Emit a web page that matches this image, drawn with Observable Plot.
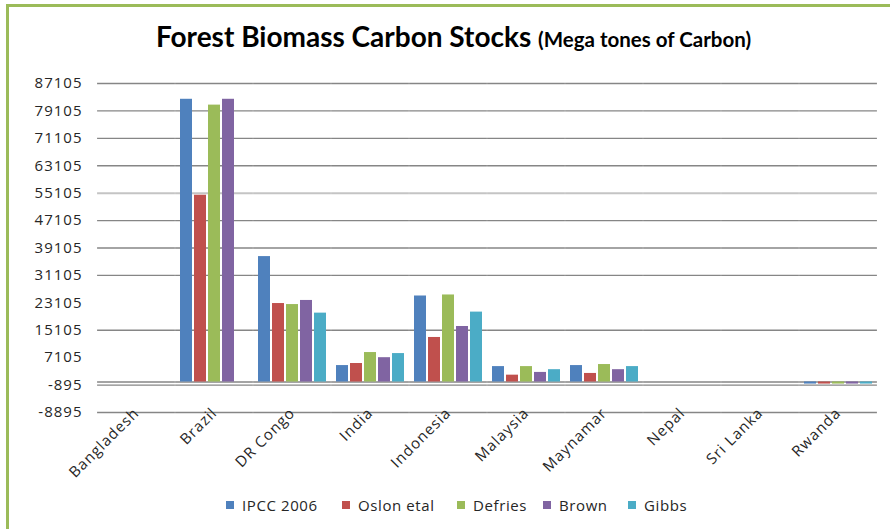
<!DOCTYPE html>
<html>
<head>
<meta charset="utf-8">
<script src="https://cdn.jsdelivr.net/npm/d3@7"></script>
<script src="https://cdn.jsdelivr.net/npm/@observablehq/plot@0.6"></script>
<style>
  html, body { margin: 0; padding: 0; background: #fff; }
  #wrap { position: relative; width: 890px; height: 529px; overflow: hidden; }
  #title { position: relative; height: 70px; }
  #title .t { position: absolute; top: 22px; left: 0; width: 890px; box-sizing: border-box; padding-left: 17px;
    text-align: center; font-family: Lato, sans-serif; font-weight: bold; font-size: 28px; line-height: 28px; color: #000; white-space: nowrap; }
  #title .t span { font-size: 20.5px; }
  #legend { position: relative; height: 39px; font-family: "Open Sans", sans-serif; font-size: 15px; letter-spacing: 0.6px; color: #262626; }
  #legend .item { position: absolute; top: 5px; display: flex; align-items: center; white-space: nowrap; }
  #legend .sw { width: 8px; height: 8px; margin-right: 8px; }
  #border { position: absolute; left: 6px; top: 4px; right: 0; bottom: 0; border-left: 3px solid #9bbb59; border-top: 3px solid #9bbb59; pointer-events: none; }
  #chart svg text { letter-spacing: 1px; }
</style>
</head>
<body>
<div id="wrap">
  <div id="title"><div class="t">Forest Biomass Carbon Stocks <span>(Mega tones of Carbon)</span></div></div>
  <div id="chart"></div>
  <div id="legend"></div>
  <div id="border"></div>
</div>
<script>
const countries = ["Bangladesh", "Brazil", "DR Congo", "India", "Indonesia", "Malaysia", "Maynamar", "Nepal", "Sri Lanka", "Rwanda"];
const seriesNames = ["IPCC 2006", "Oslon etal", "Defries", "Brown", "Gibbs"];
const colors = ["#4f81bd", "#c0504d", "#9bbb59", "#8064a2", "#4bacc6"];
const ipcc2006 = [null, 82500, 36600, 4800, 25100, 4500, 4800, null, null, -600];
const oslonEtal = [null, 54500, 22900, 5400, 13000, 2000, 2500, null, null, -600];
const defries = [null, 80800, 22600, 8600, 25400, 4500, 5100, null, null, -600];
const brown = [null, 82500, 23800, 7100, 16200, 2800, 3600, null, null, -600];
const gibbs = [null, null, 20100, 8300, 20400, 3600, 4500, null, null, -600];
const yTicks = [-8895, -895, 7105, 15105, 23105, 31105, 39105, 47105, 55105, 63105, 71105, 79105, 87105];
const gridDark = [-8895, -895, 15105, 31105, 39105, 47105, 63105, 71105, 79105, 87105];
const gridLight = [55105];

const seriesValues = [ipcc2006, oslonEtal, defries, brown, gibbs];
const data = [];
countries.forEach((c, i) => {
  seriesNames.forEach((s, j) => {
    const v = seriesValues[j][i];
    if (v != null) data.push({country: c, series: s, value: v});
  });
});

const plotW = 890 - 95 - 10;
const fxPadInner = 0.1, fxPadOuter = 0.05;
const fxStep = plotW / (countries.length - fxPadInner + 2 * fxPadOuter);
const gapHalf = -(fxStep * fxPadInner) / 2;

const chart = Plot.plot({
  width: 890,
  height: 420,
  marginTop: 13,
  marginBottom: 78,
  marginLeft: 95,
  marginRight: 10,
  style: {fontFamily: "'Open Sans', sans-serif", background: "transparent"},
  fx: {domain: countries, paddingInner: fxPadInner, paddingOuter: fxPadOuter, axis: null, label: null},
  x: {domain: seriesNames, paddingInner: 0.15, paddingOuter: 0, axis: null},
  y: {domain: [-8895, 87105], axis: null},
  color: {domain: seriesNames, range: colors},
  marks: [
    Plot.ruleY(gridDark, {stroke: "#868686", strokeWidth: 1.3, insetLeft: gapHalf, insetRight: gapHalf}),
    Plot.ruleY(gridLight, {stroke: "#c4c4c4", strokeWidth: 2, insetLeft: gapHalf, insetRight: gapHalf}),
    Plot.ruleY([0], {stroke: "#868686", strokeWidth: 1.3, insetLeft: gapHalf, insetRight: gapHalf}),
    Plot.barY(data, {fx: "country", x: "series", y: "value", fill: "series"}),
    Plot.axisY({ticks: yTicks, tickSize: 0, tickPadding: 19, tickFormat: d => String(d), fontSize: 15, fill: "#262626", label: null}),
    Plot.text(countries, {fx: d => d, text: d => d, frameAnchor: "bottom", rotate: -45, textAnchor: "end", lineAnchor: "middle", dx: 0, dy: -2, fontSize: 15, fill: "#262626"})
  ]
});
document.getElementById("chart").appendChild(chart);

const legend = document.getElementById("legend");
const lefts = [226, 342, 457, 543, 628];
seriesNames.forEach((s, j) => {
  const it = document.createElement("div");
  it.className = "item";
  it.style.left = lefts[j] + "px";
  const sw = document.createElement("div");
  sw.className = "sw";
  sw.style.background = colors[j];
  it.appendChild(sw);
  const tx = document.createElement("span");
  tx.textContent = s;
  it.appendChild(tx);
  legend.appendChild(it);
});
</script>
</body>
</html>
